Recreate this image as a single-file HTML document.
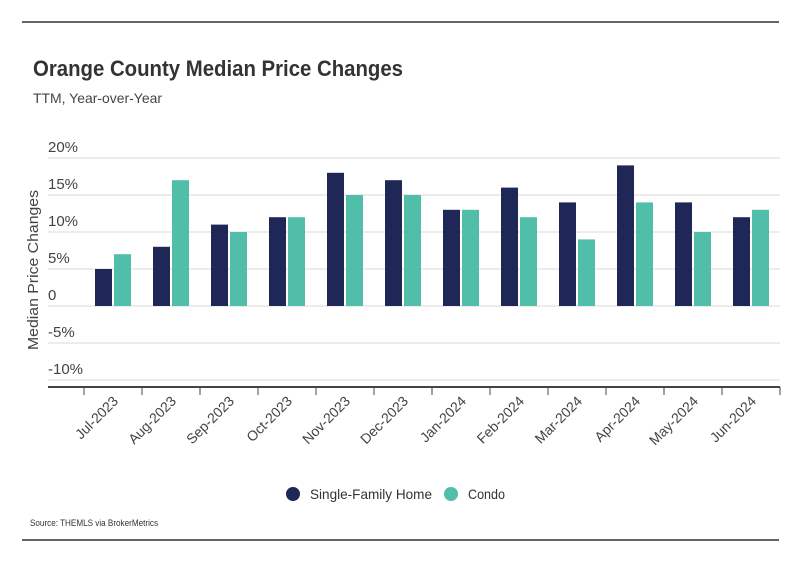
<!DOCTYPE html>
<html><head><meta charset="utf-8"><style>
body{margin:0;background:#fff;font-family:"Liberation Sans",sans-serif;}
svg text{font-family:"Liberation Sans",sans-serif;}
</style></head><body>
<svg width="799" height="575" id="c">
<line x1="22" y1="22" x2="779" y2="22" stroke="#333" stroke-width="1.5"/>
<text x="33" y="76" font-size="22" font-weight="bold" fill="#333" textLength="370" lengthAdjust="spacingAndGlyphs">Orange County Median Price Changes</text>
<text x="33" y="103" font-size="14" fill="#444" textLength="129" lengthAdjust="spacingAndGlyphs">TTM, Year-over-Year</text>
<text transform="translate(38,270) rotate(-90)" text-anchor="middle" font-size="15" fill="#444" textLength="160" lengthAdjust="spacingAndGlyphs">Median Price Changes</text>
<g id="grid"></g><g id="bars"></g><g id="xax"></g>
<circle cx="293" cy="494" r="7" fill="#1f2756"/>
<text x="310" y="499" font-size="14" fill="#333" textLength="122" lengthAdjust="spacingAndGlyphs">Single-Family Home</text>
<circle cx="451" cy="494" r="7" fill="#50bea8"/>
<text x="468" y="499" font-size="14" fill="#333" textLength="37" lengthAdjust="spacingAndGlyphs">Condo</text>
<text x="30" y="526" font-size="9" fill="#333" textLength="128" lengthAdjust="spacingAndGlyphs">Source:  THEMLS via BrokerMetrics</text>
<line x1="22" y1="540" x2="779" y2="540" stroke="#333" stroke-width="1.5"/>
</svg>
<script>
const categories=["Jul-2023","Aug-2023","Sep-2023","Oct-2023","Nov-2023","Dec-2023","Jan-2024","Feb-2024","Mar-2024","Apr-2024","May-2024","Jun-2024"];
const sfhValues=[5,8,11,12,18,17,13,16,14,19,14,12];
const condoValues=[7,17,10,12,15,15,13,12,9,14,10,13];
const yTicks=[20,15,10,5,0,-5,-10];
const yTickLabels=["20%","15%","10%","5%","0","-5%","-10%"];
const NS="http://www.w3.org/2000/svg";
function y(v){return 306-v*7.4;}
function x(i){return 84+i*58;}
function mk(t,a,p){const e=document.createElementNS(NS,t);for(const k in a)e.setAttribute(k,a[k]);p.appendChild(e);return e;}
const grid=document.getElementById('grid'),bars=document.getElementById('bars'),xax=document.getElementById('xax');
yTicks.forEach((v,i)=>{
 const l=mk('line',{x1:48,x2:780,y1:y(v),y2:y(v),stroke:'#d8d8d8','stroke-width':1},grid);
 
 
 const t=mk('text',{x:48,y:y(v)-6,'font-size':15,fill:'#444'},grid);t.textContent=yTickLabels[i];
 
 
});
categories.forEach((c,i)=>{
 const s=sfhValues[i],k=condoValues[i];
 const b1=mk('rect',{x:x(i)+11,y:Math.min(y(s),y(0)),width:17,height:Math.abs(y(s)-y(0)),fill:'#1f2756'},bars);
 
 
 const b2=mk('rect',{x:x(i)+30,y:Math.min(y(k),y(0)),width:17,height:Math.abs(y(k)-y(0)),fill:'#50bea8'},bars);
 
 
 const tk=mk('line',{x1:x(i),x2:x(i),y1:387,y2:395,stroke:'#444','stroke-width':1},xax);
 
 
 const cx=x(i)+29;
 const t=mk('text',{x:cx+6,y:402,'font-size':14,fill:'#444','text-anchor':'end',transform:`rotate(-45 ${cx+6} 402)`},xax);t.textContent=c;
 
 
});
const tl=mk('line',{x1:780,x2:780,y1:387,y2:395,stroke:'#444'},xax);


const ax=mk('line',{x1:48,x2:780,y1:387,y2:387,stroke:'#444','stroke-width':2},xax);


</script>
</body></html>
